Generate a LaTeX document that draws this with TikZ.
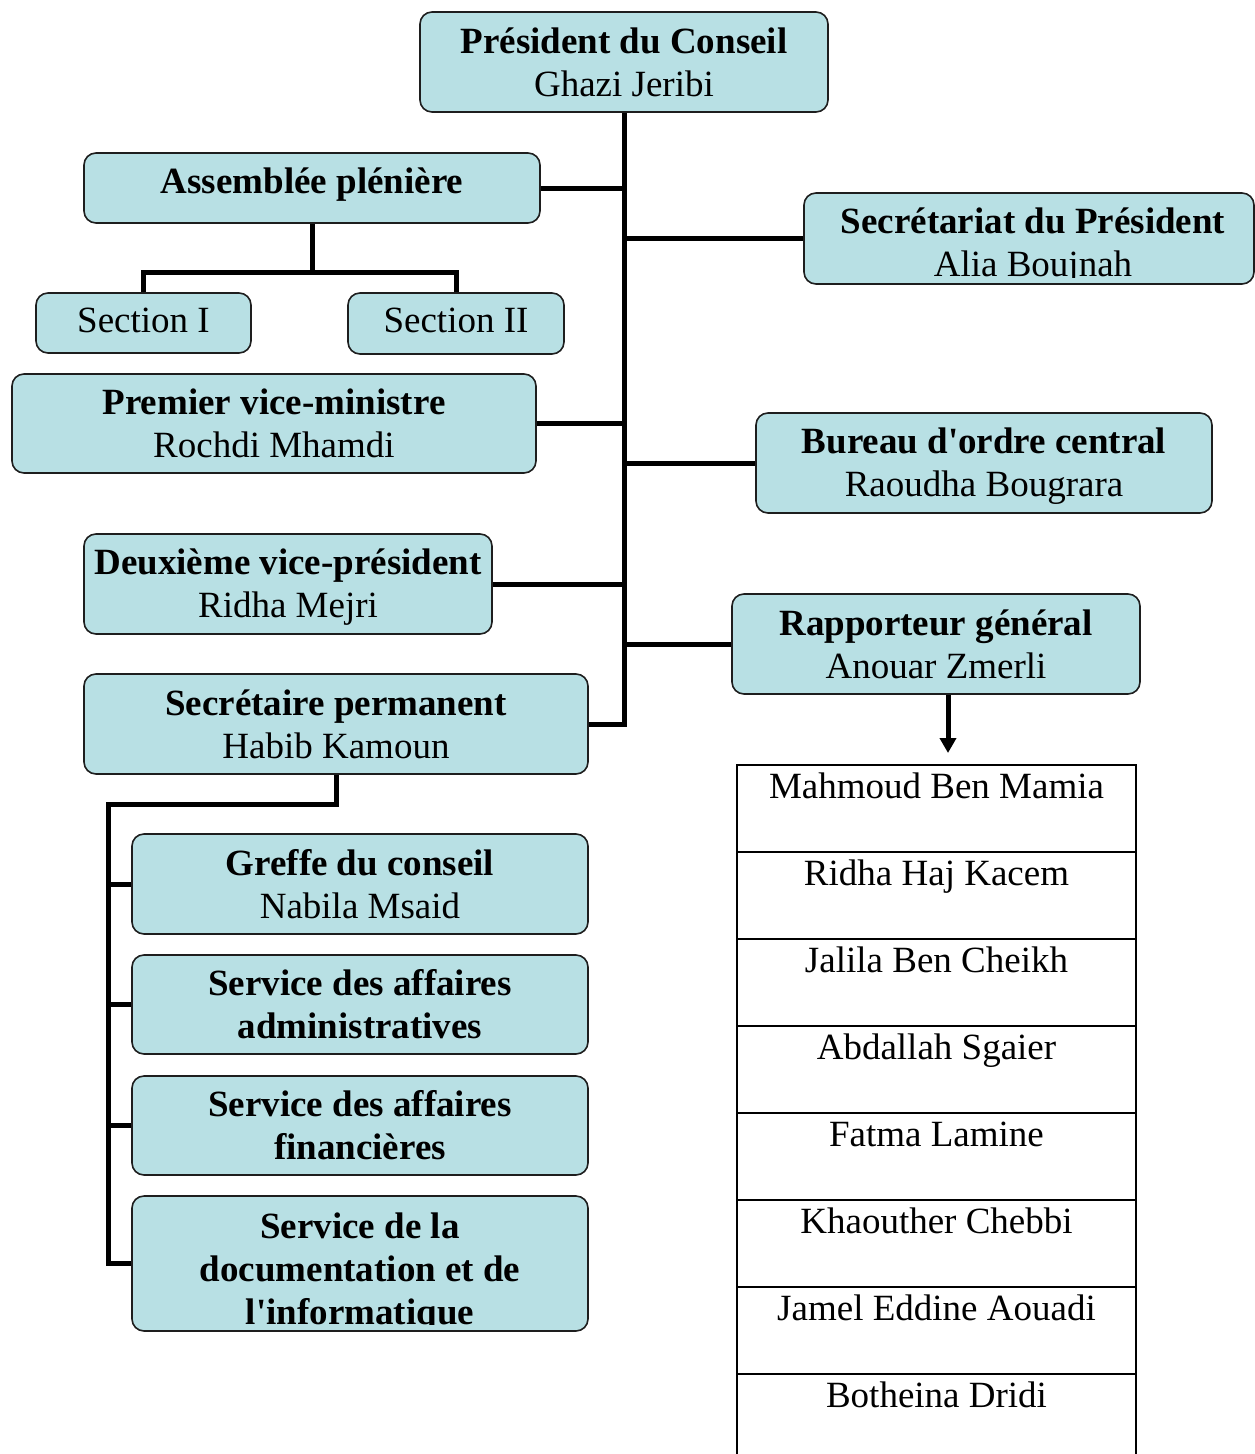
\documentclass[tikz,border=0pt]{standalone}
\usepackage{fontspec}
\setmainfont{Liberation Serif}
\usetikzlibrary{arrows.meta}
\definecolor{boxfill}{RGB}{184,224,228}
\definecolor{edge}{RGB}{30,30,30}
\newcommand\sq{\XeTeXglyph\XeTeXcharglyph"0027\relax}
% name, centre, width, height, text shift, text
\newcommand\orgbox[6]{%
  \node[box, minimum width=#3, minimum height=#4] (#1) at #2 {};
  \node[txt] (#1t) at ([yshift=#5]#1.center) {#6};}
\begin{document}
\begin{tikzpicture}[x=1pt,y=-1pt,
  box/.style={draw=edge, line width=1.6pt, fill=boxfill, rounded corners=12pt, inner sep=0pt},
  link/.style={line width=5pt, black},
  txt/.style={align=center, inner sep=0pt, font=\fontsize{37}{43}\selectfont},
  rule/.style={line width=2.5pt, black}
]
\useasboundingbox (0,0) rectangle (1255,1454);

% boxes
\orgbox{pres}{(624,62)}{408pt}{100pt}{0pt}{\textbf{Président du Conseil}\\Ghazi Jeribi}
\orgbox{assem}{(312,188)}{456pt}{70pt}{3pt}{\textbf{Assemblée plénière}}
\orgbox{sec1}{(143.5,323)}{215pt}{60pt}{3pt}{Section I}
\orgbox{sec2}{(456,323.5)}{216pt}{61pt}{3pt}{Section II}
\node[box, minimum width=450pt, minimum height=91pt] (secr) at (1029,238.5) {};
\begin{scope}
  \clip (805,193) rectangle (1254,277);
  \node[txt] (secrt) at (1033,246) {\textbf{Secrétariat du Président}\\Alia Boujnah};
\end{scope}
\orgbox{prem}{(274,423.5)}{524pt}{99pt}{0pt}{\textbf{Premier vice-ministre}\\Rochdi Mhamdi}
\orgbox{bureau}{(984,463)}{456pt}{100pt}{-3pt}{\textbf{Bureau d\sq ordre central}\\Raoudha Bougrara}
\orgbox{deux}{(288,584)}{408pt}{100pt}{-3pt}{\textbf{Deuxième vice-président}\\Ridha Mejri}
\orgbox{rapp}{(936,644)}{408pt}{100pt}{0pt}{\textbf{Rapporteur général}\\Anouar Zmerli}
\orgbox{perm}{(336,724)}{504pt}{100pt}{0pt}{\textbf{Secrétaire permanent}\\Habib Kamoun}
\orgbox{greffe}{(360,884)}{456pt}{100pt}{0pt}{\textbf{Greffe du conseil}\\Nabila Msaid}
\orgbox{sadm}{(360,1004.5)}{456pt}{99pt}{0pt}{\textbf{Service des affaires}\\\textbf{administratives}}
\orgbox{sfin}{(360,1125.5)}{456pt}{99pt}{0pt}{\textbf{Service des affaires}\\\textbf{financières}}
\node[box, minimum width=456pt, minimum height=135pt] (sdoc) at (360,1263.5) {};
\begin{scope}
  \clip (133,1197) rectangle (587,1324);
  \node[txt] (sdoct) at (360,1273)
    {\textbf{Service de la}\\\textbf{documentation et de}\\\textbf{l\sq informatique}};
\end{scope}

% connectors
\draw[link] (pres.south) |- (perm.east);
\draw[link] (assem.east) -- (assem.east -| pres.south);
\draw[link] (secr.west) -- (secr.west -| pres.south);
\draw[link] (prem.east) -- (prem.east -| pres.south);
\draw[link] (bureau.west) -- (bureau.west -| pres.south);
\draw[link] (deux.east) -- (deux.east -| pres.south);
\draw[link] (rapp.west) -- (rapp.west -| pres.south);

\coordinate (abus) at (312,272);
\draw[link] (assem.south) -- (abus);
\draw[link] (sec1.north) |- (abus) -| (sec2.north);

\coordinate (pbus) at (108,804);
\draw[link] (perm.south) |- (pbus) |- (sdoc.west);
\draw[link] (greffe.west) -- (greffe.west -| pbus);
\draw[link] (sadm.west) -- (sadm.west -| pbus);
\draw[link] (sfin.west) -- (sfin.west -| pbus);

\coordinate (atip) at (948,753);
\draw[link, -{Triangle[length=15pt,width=16pt]}] (atip |- rapp.south) -- (atip);

% list table
\draw[rule] (737,1454) -- (737,765) -- (1136,765) -- (1136,1454);
\foreach \k in {1,...,7}
  \draw[rule] (737,{765+87*\k}) -- (1136,{765+87*\k});
\foreach \t [count=\i] in {Mahmoud Ben Mamia, Ridha Haj Kacem, Jalila Ben Cheikh,
    Abdallah Sgaier, Fatma Lamine, Khaouther Chebbi, Jamel Eddine Aouadi, Botheina Dridi}
  \node[txt, anchor=base] (m\i) at (936.5,{765+87*(\i-1)+33}) {\t};
\end{tikzpicture}
\end{document}
